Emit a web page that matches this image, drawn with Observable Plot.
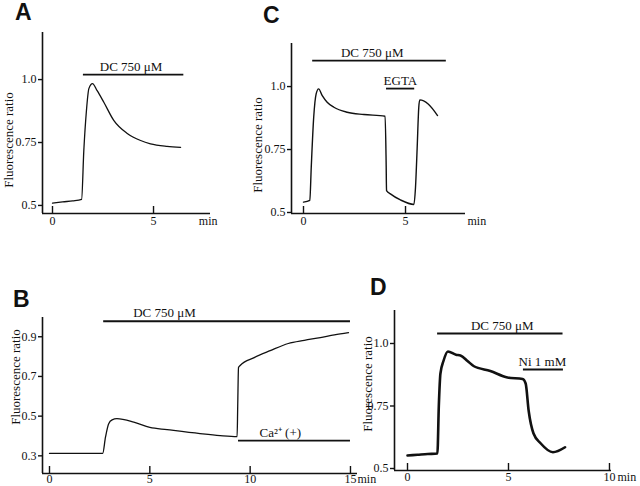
<!DOCTYPE html>
<html><head><meta charset="utf-8">
<script src="https://cdn.jsdelivr.net/npm/d3@7"></script>
<script src="https://cdn.jsdelivr.net/npm/@observablehq/plot@0.6"></script>
<style>
html,body{margin:0;padding:0;background:#fff;}
#fig{position:relative;width:640px;height:486px;overflow:hidden;background:#fff;}
#fig svg{position:absolute;left:0;top:0;}
</style></head><body>
<div id="fig"></div>
<script>
// ---------- Panel A ----------
const timeA  = [0, 0.5, 1.0, 1.44, 1.55, 1.68, 1.8, 1.98, 2.21, 2.54, 3.04, 3.7, 4.36, 4.85, 5.67, 6.34];
const ratioA = [0.509, 0.514, 0.518, 0.524, 0.718, 0.877, 0.964, 0.984, 0.956, 0.91, 0.837, 0.786, 0.758, 0.745, 0.735, 0.731];
const barStartA = [1.53], barEndA = [6.5], barLevelA = [1.02], barLabelA = ["DC 750 μM"], barLabelTA = [3.89];
const xTicksA = [0, 5], yTicksA = [0.5, 0.75, 1.0], yTickLabelsA = ["0.5", "0.75", "1.0"];

// ---------- Panel C ----------
const timeC  = [0, 0.31, 0.38, 0.5, 0.62, 0.74, 0.92, 1.16, 1.49, 2.14, 2.96, 4.0, 4.05, 4.07, 4.26, 4.75, 5.41, 5.49, 5.57, 5.65, 5.70, 6.11, 6.57];
const ratioC = [0.541, 0.548, 0.68, 0.878, 0.971, 0.991, 0.964, 0.938, 0.918, 0.898, 0.889, 0.882, 0.70, 0.587, 0.574, 0.55, 0.532, 0.60, 0.754, 0.918, 0.947, 0.931, 0.885];
const barStartC = [0.45, 4.07], barEndC = [7.0, 5.45], barLevelC = [1.103, 0.992], barLabelC = ["DC 750 μM", "EGTA"], barLabelTC = [3.37, 4.75];
const xTicksC = [0, 5], yTicksC = [0.5, 0.75, 1.0], yTickLabelsC = ["0.5", "0.75", "1.0"];

// ---------- Panel B ----------
const timeB  = [0, 1.0, 2.0, 2.65, 2.79, 2.95, 3.12, 3.36, 4.2, 5.0, 5.86, 7.5, 8.5, 9.35, 9.38, 9.42, 9.5, 10.2, 11.0, 11.9, 12.7, 13.5, 14.2, 14.9];
const ratioB = [0.312, 0.312, 0.312, 0.312, 0.394, 0.462, 0.481, 0.487, 0.47, 0.443, 0.432, 0.412, 0.402, 0.397, 0.55, 0.745, 0.755, 0.795, 0.83, 0.866, 0.882, 0.896, 0.91, 0.921];
const barStartB = [2.7, 9.42], barEndB = [15, 15], barLevelB = [0.978, 0.377], barLabelB = ["DC 750 μM", "Ca²⁺ (+)"], barLabelTB = [5.73, 11.5];
const xTicksB = [0, 5, 10, 15], yTicksB = [0.3, 0.5, 0.7, 0.9], yTickLabelsB = ["0.3", "0.5", "0.7", "0.9"];

// ---------- Panel D ----------
const timeD  = [0, 0.5, 1.0, 1.48, 1.55, 1.63, 1.78, 2.0, 2.4, 2.62, 2.97, 3.27, 4.1, 4.95, 5.7, 5.85, 6.0, 6.24, 6.6, 7.2, 7.8];
const ratioD = [0.552, 0.555, 0.558, 0.56, 0.75, 0.88, 0.93, 0.968, 0.955, 0.952, 0.93, 0.91, 0.89, 0.864, 0.858, 0.84, 0.73, 0.64, 0.60, 0.565, 0.585];
const barStartD = [1.49, 5.74], barEndD = [7.7, 7.72], barLevelD = [1.04, 0.896], barLabelD = ["DC 750 μM", "Ni 1 mM"], barLabelTD = [4.69, 6.68];
const xTicksD = [0, 5, 10], yTicksD = [0.5, 0.75, 1.0], yTickLabelsD = ["0.5", "0.75", "1.0"];

const yLabel = "Fluorescence ratio";
const xUnit = "min";

function zip(t, v) { return t.map((d, i) => ({t: d, v: v[i]})); }
function bars(s, e, l, lab, lt) { return s.map((d, i) => ({start: d, end: e[i], level: l[i], label: lab[i], lt: lt[i]})); }

// layout of each panel (pixel frame + scale domains)
const panels = [
  {letter: "A", lx: 15, ly: 20, L: 42, R: 210, T: 32, B: 213, xd: [-0.495, 7.82], yd: [0.468, 1.187], ppu: 252,
   trace: zip(timeA, ratioA), bars: bars(barStartA, barEndA, barLevelA, barLabelA, barLabelTA),
   xt: xTicksA, yt: yTicksA, ytl: yTickLabelsA, sw: 1.3, ylx: 8, yly: 140, minDx: 7, minAnchor: "end", pad: 3},
  {letter: "C", lx: 263, ly: 23, L: 291, R: 465, T: 43, B: 213, xd: [-0.588, 7.94], yd: [0.496, 1.171], ppu: 252,
   trace: zip(timeC, ratioC), bars: bars(barStartC, barEndC, barLevelC, barLabelC, barLabelTC),
   xt: xTicksC, yt: yTicksC, ytl: yTickLabelsC, sw: 1.4, ylx: 257, yly: 145, minDx: 2, minAnchor: "start", pad: 3},
  {letter: "B", lx: 13, ly: 307, L: 42, R: 357, T: 317, B: 473, xd: [-0.349, 15.35], yd: [0.211, 0.997], ppu: 198.5,
   trace: zip(timeB, ratioB), bars: bars(barStartB, barEndB, barLevelB, barLabelB, barLabelTB),
   xt: xTicksB, yt: yTicksB, ytl: yTickLabelsB, sw: 1.3, ylx: 15, yly: 377, minDx: 0, minAnchor: "start", pad: 1},
  {letter: "D", lx: 370, ly: 295, L: 394, R: 611, T: 310, B: 470, xd: [-0.644, 10.10], yd: [0.492, 1.132], ppu: 250,
   trace: zip(timeD, ratioD), bars: bars(barStartD, barEndD, barLevelD, barLabelD, barLabelTD),
   xt: xTicksD, yt: yTicksD, ytl: yTickLabelsD, sw: 2.6, ylx: 367, yly: 384, minDx: 6, minAnchor: "start", pad: 2}
];

const fig = document.getElementById("fig");
const ink = "#111";
const serif = "'Liberation Serif', 'Times New Roman', serif";
for (const p of panels) {
  const y0 = p.yd[0];
  const tickLen = 7 / p.ppu;
  const chart = Plot.plot({
    width: 640, height: 486,
    marginLeft: p.L, marginRight: 640 - p.R, marginTop: p.T, marginBottom: 486 - p.B,
    style: {background: "transparent", fontFamily: serif, fontSize: "12px", color: ink, overflow: "visible"},
    x: {domain: p.xd, axis: null},
    y: {domain: p.yd, axis: null},
    marks: [
      Plot.ruleX([p.xd[0]], {stroke: ink, strokeWidth: 1.6}),
      Plot.ruleY([p.yd[0]], {stroke: ink, strokeWidth: 1.6}),
      Plot.axisY(p.yt, {tickSize: 4, tickPadding: 2, stroke: ink, strokeWidth: 1.4, fill: ink, fontSize: 12,
        tickFormat: d => p.ytl[p.yt.indexOf(d)]}),
      Plot.axisX(p.xt, {tickSize: 0, tickPadding: p.pad, fill: ink, fontSize: 12, tickFormat: d => String(d)}),
      Plot.ruleX(p.xt, {x: d => d, y1: y0, y2: y0 + tickLen, stroke: ink, strokeWidth: 1.4}),
      Plot.text([xUnit], {text: d => d, frameAnchor: "bottom-right", textAnchor: p.minAnchor, lineAnchor: "top", dx: p.minDx, dy: p.pad, fill: ink, fontSize: 12}),
      Plot.ruleY(p.bars, {x1: "start", x2: "end", y: "level", stroke: ink, strokeWidth: 1.8}),
      Plot.text(p.bars, {x: "lt", y: "level", text: "label", dy: -8, fill: ink, fontSize: 13}),
      Plot.line(p.trace, {x: "t", y: "v", stroke: ink, strokeWidth: p.sw, curve: "monotone-x"})
    ]
  });
  fig.appendChild(chart);
}
// panel letters and rotated y-axis titles
const ns = "http://www.w3.org/2000/svg";
const lsvg = document.createElementNS(ns, "svg");
lsvg.setAttribute("width", 640); lsvg.setAttribute("height", 486);
for (const p of panels) {
  const t = document.createElementNS(ns, "text");
  t.setAttribute("x", p.lx); t.setAttribute("y", p.ly);
  t.setAttribute("font-family", "'Liberation Sans', Arial, sans-serif");
  t.setAttribute("font-weight", "bold"); t.setAttribute("font-size", "23");
  t.setAttribute("fill", ink);
  t.textContent = p.letter;
  lsvg.appendChild(t);
  const yl = document.createElementNS(ns, "text");
  yl.setAttribute("transform", `translate(${p.ylx},${p.yly}) rotate(-90)`);
  yl.setAttribute("text-anchor", "middle");
  yl.setAttribute("dominant-baseline", "central");
  yl.setAttribute("font-family", serif);
  yl.setAttribute("font-size", "13");
  yl.setAttribute("fill", ink);
  yl.textContent = yLabel;
  lsvg.appendChild(yl);
}
fig.appendChild(lsvg);
</script>
</body></html>
